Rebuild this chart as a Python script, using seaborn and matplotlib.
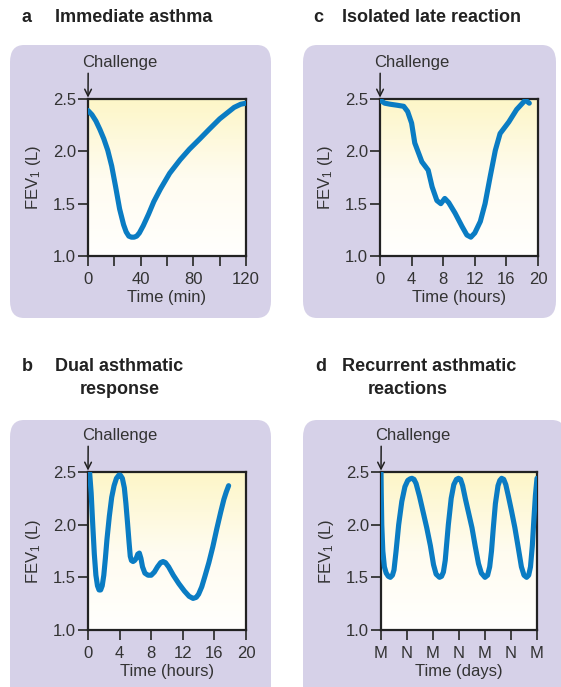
import numpy as np
import matplotlib.pyplot as plt
from matplotlib.patches import FancyBboxPatch
from matplotlib.colors import LinearSegmentedColormap
import seaborn as sns

sns.set_style("ticks")
plt.rcParams["font.family"] = ["Liberation Sans", "DejaVu Sans"]
plt.rcParams["mathtext.default"] = "regular"

# a: immediate asthma (minutes)
a_time = [0, 3, 6, 9, 12, 15, 18, 21, 24, 27, 29, 31, 33, 35, 37, 39, 42, 46,
          50, 55, 62, 70, 77, 85, 92, 100, 106, 111, 116, 120]
a_fev = [2.39, 2.35, 2.29, 2.21, 2.12, 2.01, 1.86, 1.66, 1.45, 1.3, 1.23,
         1.19, 1.18, 1.18, 1.19, 1.22, 1.29, 1.4, 1.52, 1.64, 1.79, 1.92, 2.02,
         2.12, 2.21, 2.31, 2.37, 2.42, 2.45, 2.46]

# c: isolated late reaction (hours)
c_time = [0, 0.6, 1.3, 2.2, 3.0, 3.5, 4.0, 4.4, 4.9, 5.3, 6.1, 6.6, 7.2, 7.7,
          8.2, 8.7, 9.5, 10.4, 11.0, 11.5, 12.0, 12.7, 13.3, 13.95, 14.6,
          15.2, 16.3, 17.3, 18.4, 18.9]
c_fev = [2.49, 2.46, 2.45, 2.44, 2.43, 2.38, 2.27, 2.08, 1.98, 1.9, 1.82, 1.66,
         1.53, 1.5, 1.55, 1.51, 1.41, 1.28, 1.2, 1.18, 1.22, 1.33, 1.5, 1.76,
         2.01, 2.17, 2.28, 2.4, 2.49, 2.46]

# b: dual asthmatic response (hours)
b_time = [0.2, 0.4, 0.6, 0.8, 1.0, 1.2, 1.4, 1.6, 1.8, 2.0, 2.2, 2.4, 2.7,
          3.0, 3.3, 3.6, 3.9, 4.1, 4.35, 4.6, 4.8, 5.0, 5.2, 5.35, 5.5, 5.7,
          5.9, 6.1, 6.3, 6.5, 6.7, 6.9, 7.2, 7.6, 8.0, 8.4, 8.8, 9.2, 9.5, 9.8,
          10.2, 10.8, 11.5, 12.2, 12.8, 13.3, 13.7, 14.0, 14.4, 14.8, 15.3,
          15.8, 16.3, 16.8, 17.2, 17.5, 17.8]
b_fev = [2.5, 2.3, 2.0, 1.72, 1.52, 1.42, 1.38, 1.38, 1.42, 1.52, 1.68, 1.86,
         2.08, 2.26, 2.37, 2.44, 2.47, 2.47, 2.44, 2.35, 2.2, 2.02, 1.83, 1.7,
         1.66, 1.65, 1.66, 1.68, 1.72, 1.73, 1.68, 1.6, 1.54, 1.52, 1.52, 1.55,
         1.6, 1.64, 1.65, 1.64, 1.6, 1.52, 1.44, 1.37, 1.32, 1.3, 1.31, 1.34,
         1.41, 1.51, 1.64, 1.79, 1.96, 2.12, 2.24, 2.31, 2.37]

# d: recurrent asthmatic reactions (half days, M/N)
d_time = [0, 0.01, 0.03, 0.07, 0.13, 0.2, 0.28, 0.36, 0.44, 0.5, 0.58, 0.68,
          0.8, 0.92, 1.03, 1.12, 1.19, 1.27, 1.35, 1.48, 1.62, 1.76, 1.9, 2.02,
          2.12, 2.25, 2.33, 2.4, 2.47, 2.59, 2.7, 2.8, 2.9, 2.98, 3.06, 3.14,
          3.25, 3.38, 3.5, 3.62, 3.75, 3.86, 4.0, 4.1, 4.18, 4.25, 4.32, 4.4,
          4.5, 4.57, 4.64, 4.72, 4.8, 4.9, 5.02, 5.15, 5.28, 5.4, 5.5, 5.6,
          5.68, 5.75, 5.82, 5.88, 5.94, 6.0]
d_fev = [2.5, 2.3, 2.0, 1.75, 1.6, 1.54, 1.51, 1.5, 1.52, 1.57, 1.75, 2.0,
         2.22, 2.36, 2.42, 2.435, 2.44, 2.43, 2.39, 2.27, 2.12, 1.97, 1.8, 1.62,
         1.53, 1.5, 1.51, 1.55, 1.66, 2.0, 2.25, 2.38, 2.43, 2.44, 2.43, 2.37,
         2.24, 2.1, 1.97, 1.8, 1.63, 1.54, 1.5, 1.52, 1.6, 1.75, 1.97, 2.2,
         2.37, 2.42, 2.44, 2.43, 2.38, 2.27, 2.13, 1.97, 1.78, 1.6, 1.52, 1.5,
         1.52, 1.6, 1.8, 2.05, 2.28, 2.44]
d_labels = ["M", "N", "M", "N", "M", "N", "M"]

W, H = 561, 687
fig = plt.figure(figsize=(W / 100, H / 100), dpi=100)

PURPLE = "#d6d1e8"
BLUE = "#0a7cc3"
DARK = "#222222"
TXT = "#333333"
FS = 12


def px(x0, y0, x1, y1):
    return [x0 / W, 1 - y1 / H, (x1 - x0) / W, (y1 - y0) / H]


def box(x0, y0, x1, y1):
    b = FancyBboxPatch((x0 / W, 1 - y1 / H), (x1 - x0) / W, (y1 - y0) / H,
                       boxstyle="round,pad=0,rounding_size=0.025",
                       transform=fig.transFigure, facecolor=PURPLE,
                       edgecolor="none", zorder=-5)
    fig.patches.append(b)


grad = np.linspace(0, 1, 100).reshape(-1, 1)
ycmap = LinearSegmentedColormap.from_list("y", ["#fdf6c8", "#fffcf0", "#fffffd"])


def panel(rect, x, y, xmax, ticks, labels, xlabel):
    ax = fig.add_axes(rect)
    ax.imshow(grad, aspect="auto", cmap=ycmap, extent=(0, xmax, 1.0, 2.5),
              origin="upper", zorder=0)
    sns.lineplot(x=x, y=y, ax=ax, color=BLUE, linewidth=3.7, zorder=3,
                 solid_capstyle="round", solid_joinstyle="round")
    ax.set_xlim(0, xmax)
    ax.set_ylim(1.0, 2.5)
    ax.set_xticks(ticks)
    ax.set_xticklabels(labels)
    ax.set_yticks([1.0, 1.5, 2.0, 2.5])
    ax.set_yticklabels(["1.0", "1.5", "2.0", "2.5"])
    for s in ax.spines.values():
        s.set_linewidth(1.6)
        s.set_color(DARK)
    ax.tick_params(direction="out", length=7.5, width=1.3, color=TXT,
                   labelsize=FS, labelcolor=TXT)
    ax.tick_params(axis="x", pad=4)
    ax.tick_params(axis="y", pad=1)
    ax.set_xlabel(xlabel, fontsize=FS, color=TXT, labelpad=2)
    ax.set_ylabel("FEV$_1$ (L)", fontsize=FS, color=TXT, labelpad=7)
    ax.set_facecolor("none")
    ax.annotate("Challenge", xy=(0, 2.5), xycoords="data",
                xytext=(-6, 29), textcoords="offset pixels",
                ha="left", va="bottom", fontsize=FS, color=TXT,
                annotation_clip=False,
                arrowprops=dict(arrowstyle="->", color="#222222", lw=1.1,
                                shrinkA=0, shrinkB=1,
                                relpos=(6 / 73, 0)))
    return ax


box(10, 45, 271, 318)
box(303, 45, 556, 318)
box(10, 420, 271, 710)
box(303, 420, 566, 710)

ax_a = panel(px(88, 99, 246, 256), a_time, a_fev, 120,
             list(range(0, 121, 20)), ["0", "", "40", "", "80", "", "120"],
             "Time (min)")
ax_c = panel(px(380, 99, 538, 256), c_time, c_fev, 20,
             list(range(0, 21, 4)), [str(t) for t in range(0, 21, 4)],
             "Time (hours)")
ax_b = panel(px(88, 472, 246, 630), b_time, b_fev, 20,
             list(range(0, 21, 4)), [str(t) for t in range(0, 21, 4)],
             "Time (hours)")
ax_d = panel(px(381, 472, 537, 630), d_time, d_fev, 6,
             list(range(7)), d_labels, "Time (days)")

tkw = dict(fontsize=13, fontweight="bold", color="#222222", va="center")
fig.text(22 / W, 1 - 18 / H, "a", **tkw)
fig.text(55 / W, 1 - 18 / H, "Immediate asthma", **tkw)
fig.text(313 / W, 1 - 18 / H, "c", **tkw)
fig.text(342 / W, 1 - 18 / H, "Isolated late reaction", **tkw)
fig.text(22 / W, 1 - 367 / H, "b", **tkw)
fig.text(55 / W, 1 - 367 / H, "Dual asthmatic", **tkw)
fig.text(80 / W, 1 - 390 / H, "response", **tkw)
fig.text(315 / W, 1 - 367 / H, "d", **tkw)
fig.text(342 / W, 1 - 367 / H, "Recurrent asthmatic", **tkw)
fig.text(368 / W, 1 - 390 / H, "reactions", **tkw)

fig.savefig("out.png", dpi=100, facecolor="white")
